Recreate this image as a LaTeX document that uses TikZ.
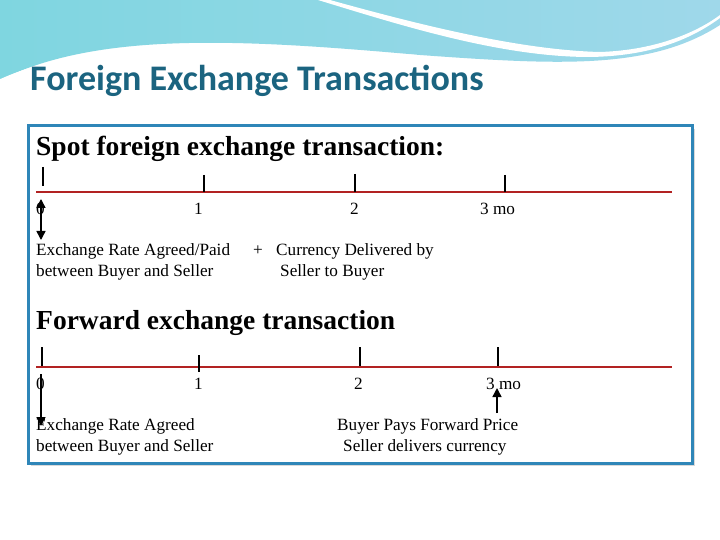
\documentclass[tikz,border=0pt]{standalone}
\usepackage{fontspec}
\setmainfont{Liberation Serif}
\newfontfamily\titlefont{Carlito}
\usetikzlibrary{arrows.meta}
\definecolor{boxblue}{HTML}{2F86B8}
\definecolor{titlec}{HTML}{1B6480}
\definecolor{redl}{HTML}{B22222}
\definecolor{hl}{HTML}{7FD6E0}
\definecolor{hr}{HTML}{9FD8EA}
\begin{document}
\begin{tikzpicture}[x=1pt,y=-1pt,
  tick/.style={line width=2.4pt},
  tl/.style={draw=redl,line width=1.8pt},
  lab/.style={anchor=west,inner sep=0pt,font=\fontsize{17.2}{21}\selectfont,align=left},
  head/.style={anchor=west,inner sep=0pt,font=\fontsize{27.5}{30}\selectfont\bfseries},
  tip/.style={Triangle[length=9pt,width=9pt]},
  arr/.style={line width=1.4pt,-{Triangle[length=9pt,width=9pt]}}]
\useasboundingbox (0,0) rectangle (720,540);
\fill[white] (0,0) rectangle (720,540);
% header
\shade[left color=hl, right color=hr]
  (0,0) -- (720,0) -- (720,25) .. controls (650,70) and (560,65) .. (420,55)
  .. controls (250,40) and (100,30) .. (0,80) -- cycle;
\fill[white] (330,0) .. controls (420,25) and (520,50) .. (600,52)
  .. controls (660,50) and (700,30) .. (720,15) -- (720,18)
  .. controls (690,40) and (650,56) .. (590,57) .. controls (500,57) and (400,25) .. (318,0) -- cycle;
\draw[white,line width=1.5pt] (0,80) .. controls (100,35) and (250,45) .. (420,56);
\node[anchor=west,inner sep=0pt,text=titlec,font=\titlefont\fontsize{36}{40}\selectfont\bfseries] (title) at (30,81) {Foreign Exchange Transactions};
% box
\fill[gray!30] (31,129) rectangle (695,466);
\draw[boxblue,line width=3pt,fill=white] (28,126) rectangle (692,463);
% spot
\node[head] (h1) at (36,149) {Spot foreign exchange transaction:};
\coordinate (l1a) at (36,192); \coordinate (l1b) at (672,192);
\draw[tl] (l1a) -- (l1b);
\draw[tick] (43,167) -- (43,186);
\draw[tick] (204,175) -- (204,192);
\draw[tick] (355,174) -- (355,192);
\draw[tick] (505,175) -- (505,192);
\node[lab] (s0) at (36,209) {0};
\node[lab] (s1) at (194,209) {1};
\node[lab] (s2) at (350,209) {2};
\node[lab] (s3) at (480,209) {3 mo};
\coordinate (sa) at (41,199); \coordinate (sb) at (41,240);
\draw[line width=1.4pt,{Triangle[length=9pt,width=9pt]}-{Triangle[length=9pt,width=9pt]}] (sa) -- (sb);
\node[lab] (st1) at (36,262) {Exchange Rate Agreed/Paid\\between Buyer and Seller};
\node[lab] (plus) at (253,251) {+};
\node[lab] (st2) at (276,262) {Currency Delivered by\\\hspace*{4pt}Seller to Buyer};
% forward
\node[head] (h2) at (36,323) {Forward exchange transaction};
\coordinate (l2a) at (36,367); \coordinate (l2b) at (672,367);
\draw[tl] (l2a) -- (l2b);
\draw[tick] (42,347) -- (42,366);
\draw[tick] (199,355) -- (199,372);
\draw[tick] (360,347) -- (360,366);
\draw[tick] (498,347) -- (498,366);
\node[lab] (f0) at (36,384) {0};
\node[lab] (f1) at (194,384) {1};
\node[lab] (f2) at (354,384) {2};
\node[lab] (f3) at (486,384) {3 mo};
\coordinate (fa) at (41,374); \coordinate (fb) at (41,426);
\draw[arr] (fa) -- (fb);
\coordinate (ga) at (497,413); \coordinate (gb) at (497,388);
\draw[arr] (ga) -- (gb);
\node[lab] (ft1) at (36,437) {Exchange Rate Agreed\\between Buyer and Seller};
\node[lab] (ft2) at (337,437) {Buyer Pays Forward Price\\\hspace*{6pt}Seller delivers currency};
\end{tikzpicture}
\end{document}
